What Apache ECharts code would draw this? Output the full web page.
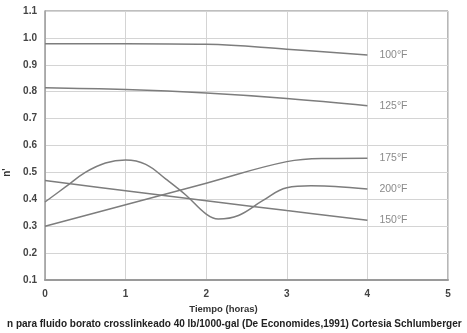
<!DOCTYPE html>
<html><head><meta charset="utf-8">
<script src="https://cdn.jsdelivr.net/npm/echarts@6/dist/echarts.min.js"></script>
<style>html,body{margin:0;padding:0;background:#fff}#c{width:467px;height:333px}</style>
</head><body><div id="c"></div>
<script>
var yTicks = ['0.1','0.2','0.3','0.4','0.5','0.6','0.7','0.8','0.9','1.0','1.1'];
var xTicks = ['0','1','2','3','4','5'];
var x100 = [0,1,2,3,4];
var y100 = [0.978,0.978,0.976,0.958,0.936];
var x125 = [0,1,2,3,4];
var y125 = [0.815,0.808,0.795,0.775,0.748];
var x175 = [0,1,2,3,3.5,4];
var y175 = [0.30,0.38,0.46,0.54,0.552,0.553];
var x200 = [0,0.25,0.5,0.75,1,1.25,1.5,1.75,2,2.15,2.4,2.7,3,3.3,3.6,4];
var y200 = [0.39,0.445,0.50,0.535,0.546,0.53,0.475,0.415,0.345,0.327,0.34,0.395,0.443,0.45,0.448,0.438];
var x150 = [0,1,2,3,4];
var y150 = [0.47,0.432,0.395,0.358,0.322];
var names = ['100°F','125°F','175°F','200°F','150°F'];

function pairs(xs, ys){ return xs.map(function(x,i){return [x, ys[i]];}); }
var sets = [[x100,y100],[x125,y125],[x175,y175],[x200,y200],[x150,y150]];

var chart = echarts.init(document.getElementById('c'), null, {renderer:'canvas'});
chart.setOption({
  animation:false,
  grid:{left:45,right:19,top:11,bottom:53,containLabel:false,outerBoundsMode:'none'},
  xAxis:{type:'value',min:0,max:5,interval:1,
    axisLine:{show:true,lineStyle:{color:'#9a9a9a',width:2}},
    axisTick:{show:false},
    axisLabel:{color:'#444',fontFamily:'Liberation Sans',fontWeight:'bold',fontSize:10,margin:9,
      formatter:function(v){return xTicks[Math.round(v)];}},
    splitLine:{show:true,lineStyle:{color:'#d4d4d4',width:1}},
    name:'Tiempo (horas)',nameLocation:'middle',nameGap:22,
    nameTextStyle:{color:'#333',fontFamily:'Liberation Sans',fontWeight:'bold',fontSize:9.5,padding:[0,46,0,0]}
  },
  yAxis:{type:'value',min:0.1,max:1.1,interval:0.1,
    axisLine:{show:true,lineStyle:{color:'#9a9a9a',width:1.5}},
    axisTick:{show:false},
    axisLabel:{color:'#444',fontFamily:'Liberation Sans',fontWeight:'bold',fontSize:10,margin:8,
      formatter:function(v){return yTicks[Math.round(v*10)-1];}},
    splitLine:{show:true,lineStyle:{color:'#d4d4d4',width:1}},
    name:"n'",nameLocation:'middle',nameGap:31,nameRotate:90,
    nameTextStyle:{color:'#333',fontFamily:'Liberation Sans',fontWeight:'bold',fontSize:10,padding:[0,54,0,0]}
  },
  title:{text:'n para fluido borato crosslinkeado 40 lb/1000-gal (De Economides,1991) Cortesia Schlumberger',
    left:2,top:314,textStyle:{color:'#222',fontFamily:'Liberation Sans',fontWeight:'bold',fontSize:10}},
  graphic:[{type:'rect',shape:{x:448,y:11,width:0,height:269},style:{stroke:'#a0a0a0',lineWidth:1.5,fill:null}},
           {type:'rect',shape:{x:45,y:11,width:403,height:0},style:{stroke:'#a8a8a8',lineWidth:1,fill:null}}],
  series: sets.map(function(s,i){
    return {type:'line',name:names[i],data:pairs(s[0],s[1]),smooth:0.4,symbol:'none',
      lineStyle:{color:'#7d7d7d',width:1.5},
      endLabel:{show:true,formatter:names[i],color:'#8a8a8a',fontFamily:'Liberation Sans',fontSize:10.5,distance:12}};
  })
});
</script></body></html>
